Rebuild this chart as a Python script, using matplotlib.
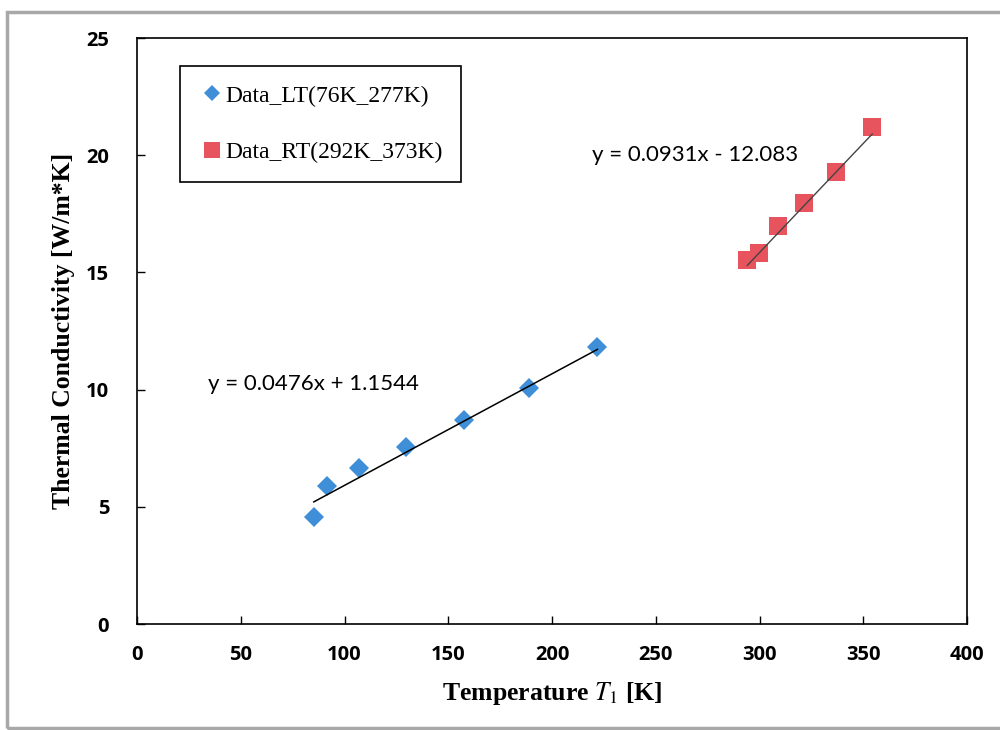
import matplotlib.pyplot as plt
from matplotlib.patches import Rectangle
import numpy as np

# Data
lt_temp = [85.2, 91.5, 106.9, 129.5, 157.4, 188.7, 221.9]
lt_k = [4.56, 5.89, 6.66, 7.55, 8.70, 10.07, 11.82]
rt_temp = [294.1, 299.9, 309.0, 321.5, 336.9, 354.3]
rt_k = [15.53, 15.83, 16.98, 17.96, 19.28, 21.20]

# trendline coefficients (slope, intercept) as shown on the chart
lt_fit = [0.0476, 1.1544]
rt_fit = [0.0931, -12.083]

plt.rcParams['mathtext.fontset'] = 'stix'

fig = plt.figure(figsize=(10, 7.3), dpi=100)
ax = fig.add_axes([0.137, 0.1452, 0.830, 0.8027])

# scanned page frame
fig.patches.append(Rectangle((0.007, 0.003), 1.1, 0.98, transform=fig.transFigure,
                             fill=False, edgecolor='#a8a8a8', linewidth=2.5))

ax.plot(lt_temp, lt_k, 'D', color='#3f8fd8', markersize=10, markeredgewidth=0,
        label='Data_LT(76K_277K)', zorder=3)
ax.plot(rt_temp, rt_k, 's', color='#e8545e', markersize=13.5, markeredgewidth=0,
        label='Data_RT(292K_373K)', zorder=3)

# trendlines
xl = np.array([min(lt_temp), max(lt_temp)])
ax.plot(xl, lt_fit[0] * xl + lt_fit[1], color='black', linewidth=1.1, zorder=4)
xr = np.array([min(rt_temp), max(rt_temp)])
ax.plot(xr, rt_fit[0] * xr + rt_fit[1], color='#444444', linewidth=1.0, zorder=4)

ax.text(34.2, 10.24, 'y = 0.0476x + 1.1544', fontsize=16, family='Lato', va='center')
ax.text(219.5, 20.0, 'y = 0.0931x - 12.083', fontsize=16, family='Lato', va='center')

ax.set_xlim(0, 400)
ax.set_ylim(0, 25)
ax.set_xticks(range(0, 401, 50))
ax.set_yticks(range(0, 26, 5))
ax.set_xticklabels([str(v) for v in range(0, 401, 50)], family='Open Sans',
                   fontweight='bold', fontsize=14.5)
ax.set_yticklabels([str(v) for v in range(0, 26, 5)], family='Open Sans',
                   fontweight='bold', fontsize=14.5)
ax.tick_params(direction='in', length=6, width=1, pad=15)
ax.tick_params(axis='y', pad=20)
for s in ax.spines.values():
    s.set_linewidth(1.2)

ax.set_xlabel('Temperature $\\mathit{T_1}$ [K]', family='Liberation Serif',
              fontweight='bold', fontsize=18.5, labelpad=11)
ax.set_ylabel('Thermal Conductivity [W/m*K]', family='Liberation Serif',
              fontweight='bold', fontsize=18.5, labelpad=8)

leg = ax.legend(loc='upper left', bbox_to_anchor=(0.052, 0.952), fancybox=False,
                edgecolor='black', framealpha=1, borderpad=0.8, labelspacing=1.5,
                handletextpad=0.0, handlelength=1.1, borderaxespad=0,
                prop={'family': 'Liberation Serif', 'size': 17})
leg.get_frame().set_linewidth(1.2)
leg.legend_handles[0].set_markersize(8)
leg.legend_handles[1].set_markersize(12)

plt.savefig('out.png', dpi=100)
